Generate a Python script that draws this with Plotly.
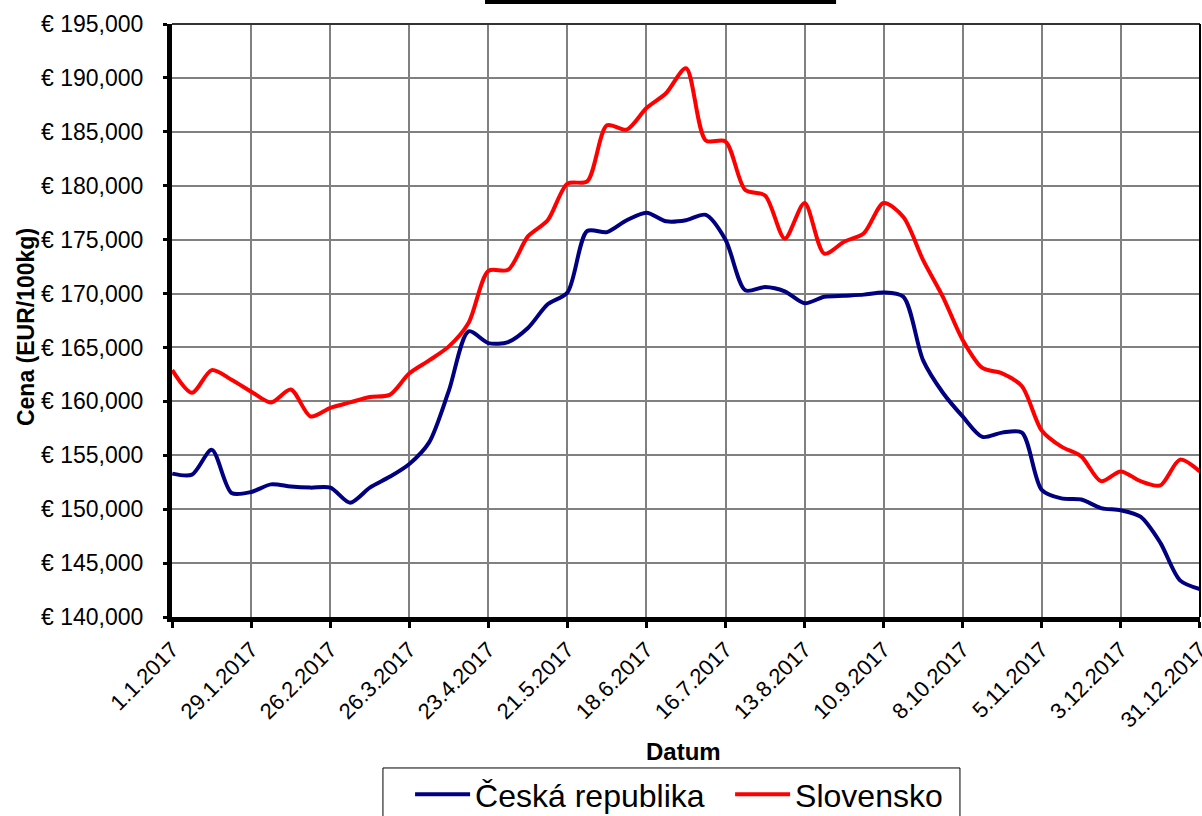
import pandas as pd
import plotly.graph_objects as go

dates = pd.date_range("2017-01-01", "2017-12-31", freq="7D")

cz = [153.3, 153.2, 155.5, 151.5, 151.6, 152.3, 152.1, 152.0, 152.0, 150.6,
      152.0, 153.0, 154.2, 156.2, 161.0, 166.5, 165.4, 165.5, 166.8, 169.0,
      170.1, 175.8, 175.7, 176.8, 177.5, 176.7, 176.8, 177.3, 175.0, 170.3,
      170.6, 170.2, 169.1, 169.7, 169.8, 169.9, 170.1, 169.7, 163.8, 160.8,
      158.6, 156.7, 157.1, 157.1, 151.8, 151.0, 150.9, 150.1, 149.9, 149.3,
      146.9, 143.4, 142.6]
sk = [162.9, 160.8, 162.9, 162.0, 160.9, 159.9, 161.1, 158.6, 159.4, 159.9,
      160.4, 160.6, 162.6, 163.8, 165.1, 167.3, 172.1, 172.2, 175.3, 176.8,
      180.2, 180.4, 185.6, 185.2, 187.2, 188.6, 190.9, 184.2, 184.1, 179.6,
      179.1, 175.1, 178.4, 173.7, 174.8, 175.6, 178.4, 177.1, 173.1, 169.7,
      165.7, 163.1, 162.6, 161.4, 157.3, 155.8, 154.9, 152.6, 153.5, 152.6,
      152.2, 154.6, 153.5]
cz = [v * 1000 for v in cz]
sk = [v * 1000 for v in sk]

tick_dates = list(dates[::4])
tick_text = [f"{d.day}.{d.month}.{d.year}" for d in tick_dates]
y_ticks = list(range(140000, 195001, 5000))
y_text = [f"€ {v:,}" for v in y_ticks]

fig = go.Figure()
fig.add_trace(go.Scatter(x=dates, y=cz, name="Česká republika", mode="lines",
                         line=dict(color="#000080", width=4, shape="spline", smoothing=0.8)))
fig.add_trace(go.Scatter(x=dates, y=sk, name="Slovensko", mode="lines",
                         line=dict(color="#FF0000", width=4, shape="spline", smoothing=0.8)))

fig.update_layout(
    width=1202, height=816,
    margin=dict(l=172, r=2, t=24, b=199, autoexpand=False),
    paper_bgcolor="white", plot_bgcolor="white",
    font=dict(family="Liberation Sans, Arial", color="black"),
    showlegend=True,
    legend=dict(orientation="h", x=0.2316, xanchor="left", y=-0.253, yanchor="top",
                font=dict(size=32), bgcolor="rgba(0,0,0,0)", itemwidth=55,
                entrywidth=250, entrywidthmode="pixels", tracegroupgap=0),
    shapes=[
        dict(type="rect", xref="paper", yref="paper", x0=0.3045, x1=0.646,
             y0=1.0337, y1=1.05, fillcolor="black", line=dict(width=0)),
        dict(type="rect", xref="paper", yref="paper", x0=0.2052, x1=0.7665,
             y0=-0.2546, y1=-0.36, fillcolor="rgba(0,0,0,0)",
             line=dict(color="black", width=1)),
    ],
    annotations=[
        dict(text="<b>Datum</b>", xref="paper", yref="paper", x=0.498, y=-0.226,
             xanchor="center", yanchor="middle", showarrow=False, font=dict(size=24)),
        dict(text="<b>Cena (EUR/100kg)</b>", xref="paper", yref="paper",
             x=-0.142, y=0.489,
             xanchor="center", yanchor="middle", textangle=-90, showarrow=False,
             font=dict(size=23)),
    ],
)
fig.update_xaxes(
    type="date", range=[dates[0] - pd.Timedelta(hours=2), dates[-1] + pd.Timedelta(hours=2)],
    tickmode="array", tickvals=tick_dates, ticktext=tick_text, tickangle=-45,
    tickfont=dict(size=22), showgrid=True, gridcolor="#808080", gridwidth=2,
    showline=True, linecolor="black", linewidth=5, mirror=False,
    ticks="outside", ticklen=6, tickwidth=3, tickcolor="black", zeroline=False,
    ticklabeloverflow="allow",
)
fig.update_yaxes(
    range=[140000, 195000], tickmode="array", tickvals=y_ticks, ticktext=y_text,
    tickfont=dict(size=23), showgrid=True, gridcolor="#808080", gridwidth=2,
    showline=True, linecolor="black", linewidth=5, mirror=False,
    ticks="outside", ticklen=4, tickwidth=3, tickcolor="black", zeroline=False,
    ticklabelstandoff=15,
)
fig.add_shape(type="line", xref="paper", yref="paper", x0=0, x1=1, y0=1, y1=1,
              line=dict(color="#333333", width=2))
fig.add_shape(type="line", xref="paper", yref="paper", x0=1, x1=1, y0=0, y1=1,
              line=dict(color="black", width=2))

fig.write_html("out.html", config={"displayModeBar": False},
               post_script="document.body.style.margin='0';document.body.style.overflow='hidden';")
